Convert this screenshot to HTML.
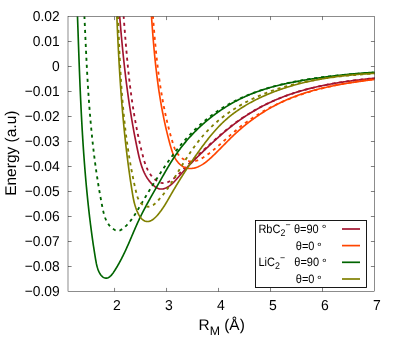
<!DOCTYPE html>
<html><head><meta charset="utf-8"><title>plot</title>
<style>
html,body{margin:0;padding:0;background:#fff;}
svg{display:block;will-change:transform;}
text{font-family:"Liberation Sans",sans-serif;fill:#000;text-rendering:geometricPrecision;}
</style></head><body>
<svg width="400" height="350" viewBox="0 0 400 350">
<defs><clipPath id="pc"><rect x="68.0" y="16.5" width="306.5" height="275.0"/></clipPath></defs>
<path d="M68.0,41.50h3.6 M374.5,41.50h-3.6 M68.0,66.50h3.6 M374.5,66.50h-3.6 M68.0,91.50h3.6 M374.5,91.50h-3.6 M68.0,116.50h3.6 M374.5,116.50h-3.6 M68.0,141.50h3.6 M374.5,141.50h-3.6 M68.0,166.50h3.6 M374.5,166.50h-3.6 M68.0,191.50h3.6 M374.5,191.50h-3.6 M68.0,216.50h3.6 M374.5,216.50h-3.6 M68.0,241.50h3.6 M374.5,241.50h-3.6 M68.0,266.50h3.6 M374.5,266.50h-3.6 M114.55,291.5v-3.6 M114.55,16.5v3.6 M166.54,291.5v-3.6 M166.54,16.5v3.6 M218.53,291.5v-3.6 M218.53,16.5v3.6 M270.52,291.5v-3.6 M270.52,16.5v3.6 M322.51,291.5v-3.6 M322.51,16.5v3.6" stroke="#000" stroke-width="0.5" fill="none"/>
<g clip-path="url(#pc)" fill="none" stroke-linejoin="round">
<path d="M115.47,-40.04 L115.55,-39.03 L115.62,-38.02 L115.69,-37.01 L115.77,-36.00 L115.84,-34.99 L115.91,-33.99 L115.99,-32.98 L116.06,-31.97 L116.13,-30.97 L116.21,-29.96 L116.28,-28.95 L116.35,-27.95 L116.42,-26.94 L116.50,-25.94 L116.57,-24.93 L116.64,-23.93 L116.72,-22.93 L116.79,-21.92 L116.86,-20.92 L116.94,-19.92 L117.01,-18.92 L117.08,-17.91 L117.15,-16.91 L117.23,-15.91 L117.30,-14.91 L117.37,-13.91 L117.45,-12.91 L117.52,-11.91 L117.60,-10.91 L117.67,-9.91 L117.74,-8.91 L117.82,-7.91 L117.89,-6.91 L117.97,-5.91 L118.04,-4.91 L118.12,-3.92 L118.19,-2.92 L118.27,-1.92 L118.34,-0.92 L118.42,0.07 L118.49,1.07 L118.57,2.07 L118.65,3.06 L118.72,4.06 L118.80,5.06 L118.88,6.05 L118.95,7.05 L119.03,8.04 L119.11,9.04 L119.19,10.03 L119.27,11.03 L119.35,12.02 L119.43,13.01 L119.51,14.01 L119.59,15.00 L119.67,15.99 L119.75,16.99 L119.83,17.98 L119.91,18.97 L119.99,19.97 L120.07,20.96 L120.16,21.95 L120.24,22.94 L120.32,23.94 L120.41,24.93 L120.49,25.92 L120.58,26.91 L120.66,27.90 L120.75,28.89 L120.83,29.88 L120.92,30.87 L121.01,31.87 L121.09,32.86 L121.18,33.85 L121.27,34.84 L121.36,35.83 L121.45,36.82 L121.54,37.81 L121.63,38.80 L121.72,39.79 L121.82,40.78 L121.91,41.77 L122.00,42.76 L122.10,43.74 L122.19,44.73 L122.29,45.72 L122.38,46.71 L122.48,47.70 L122.58,48.69 L122.67,49.68 L122.77,50.67 L122.87,51.66 L122.97,52.64 L123.07,53.63 L123.17,54.62 L123.27,55.61 L123.38,56.60 L123.48,57.59 L123.58,58.57 L123.69,59.56 L123.79,60.55 L123.90,61.54 L124.01,62.53 L124.12,63.51 L124.22,64.50 L124.33,65.49 L124.44,66.48 L124.55,67.47 L124.67,68.45 L124.78,69.44 L124.89,70.43 L125.01,71.42 L125.12,72.40 L125.24,73.39 L125.36,74.38 L125.47,75.37 L125.59,76.36 L125.71,77.34 L125.83,78.33 L125.95,79.32 L126.08,80.31 L126.20,81.30 L126.32,82.28 L126.45,83.27 L126.58,84.26 L126.70,85.25 L126.83,86.24 L126.96,87.22 L127.09,88.21 L127.22,89.20 L127.35,90.19 L127.49,91.18 L127.62,92.17 L127.76,93.16 L127.89,94.14 L128.03,95.13 L128.17,96.12 L128.31,97.11 L128.45,98.10 L128.59,99.09 L128.73,100.08 L128.88,101.07 L129.02,102.06 L129.17,103.05 L129.32,104.04 L129.47,105.03 L129.62,106.02 L129.77,107.00 L129.92,108.00 L130.07,108.99 L130.23,109.98 L130.38,110.97 L130.54,111.96 L130.70,112.95 L130.86,113.94 L131.02,114.93 L131.18,115.92 L131.34,116.91 L131.51,117.90 L131.67,118.89 L131.84,119.89 L132.01,120.88 L132.18,121.87 L132.35,122.86 L132.52,123.86 L132.69,124.85 L132.87,125.84 L133.04,126.83 L133.22,127.83 L133.40,128.82 L133.58,129.81 L133.76,130.81 L133.94,131.80 L134.13,132.80 L134.31,133.79 L134.50,134.79 L134.69,135.78 L134.88,136.78 L135.07,137.77 L135.26,138.77 L135.46,139.76 L135.65,140.76 L135.85,141.75 L136.05,142.75 L136.25,143.75 L136.45,144.74 L136.66,145.74 L136.86,146.74 L137.07,147.74 L137.28,148.74 L137.48,149.73 L137.70,150.73 L137.91,151.73 L138.12,152.73 L138.34,153.73 L138.57,154.72 L138.79,155.72 L139.02,156.71 L139.26,157.70 L139.51,158.69 L139.76,159.67 L140.01,160.65 L140.28,161.62 L140.56,162.59 L140.84,163.56 L141.14,164.52 L141.44,165.47 L141.76,166.42 L142.09,167.36 L142.43,168.30 L142.78,169.22 L143.15,170.14 L143.53,171.05 L143.93,171.95 L144.34,172.84 L144.77,173.72 L145.21,174.60 L145.67,175.46 L146.16,176.31 L146.66,177.15 L147.17,177.97 L147.71,178.79 L148.27,179.59 L148.85,180.38 L149.45,181.15 L150.08,181.91 L150.73,182.66 L151.40,183.39 L152.09,184.10 L152.81,184.81 L153.56,185.49 L154.33,186.14 L155.12,186.75 L155.93,187.31 L156.77,187.81 L157.62,188.24 L158.49,188.59 L159.38,188.84 L160.29,188.99 L161.20,189.04 L162.13,188.99 L163.07,188.84 L164.01,188.61 L164.94,188.30 L165.88,187.92 L166.80,187.47 L167.71,186.97 L168.61,186.42 L169.48,185.83 L170.34,185.21 L171.16,184.56 L171.96,183.88 L172.73,183.19 L173.47,182.49 L174.19,181.77 L174.90,181.03 L175.59,180.29 L176.26,179.54 L176.93,178.78 L177.59,178.03 L178.24,177.26 L178.90,176.50 L179.55,175.75 L180.21,174.99 L180.87,174.24 L181.54,173.49 L182.20,172.75 L182.87,172.00 L183.54,171.26 L184.22,170.53 L184.89,169.79 L185.57,169.06 L186.26,168.33 L186.94,167.61 L187.62,166.88 L188.31,166.16 L189.00,165.44 L189.70,164.72 L190.39,164.01 L191.09,163.30 L191.78,162.59 L192.48,161.88 L193.19,161.17 L193.89,160.46 L194.59,159.76 L195.30,159.06 L196.01,158.36 L196.72,157.66 L197.43,156.96 L198.14,156.26 L198.86,155.57 L199.57,154.87 L200.29,154.18 L201.00,153.48 L201.72,152.79 L202.44,152.10 L203.16,151.41 L203.88,150.72 L204.61,150.03 L205.33,149.34 L206.05,148.65 L206.78,147.97 L207.51,147.28 L208.23,146.59 L208.96,145.91 L209.69,145.22 L210.42,144.54 L211.15,143.85 L211.88,143.17 L212.62,142.49 L213.35,141.81 L214.09,141.13 L214.83,140.46 L215.57,139.78 L216.31,139.11 L217.05,138.44 L217.80,137.77 L218.54,137.10 L219.29,136.44 L220.04,135.77 L220.80,135.11 L221.55,134.45 L222.31,133.80 L223.07,133.14 L223.83,132.49 L224.59,131.84 L225.35,131.20 L226.12,130.56 L226.89,129.92 L227.66,129.28 L228.44,128.65 L229.22,128.02 L230.00,127.39 L230.78,126.77 L231.57,126.15 L232.35,125.53 L233.15,124.92 L233.94,124.31 L234.74,123.71 L235.54,123.11 L236.34,122.51 L237.15,121.92 L237.96,121.33 L238.77,120.75 L239.58,120.16 L240.40,119.59 L241.22,119.02 L242.05,118.45 L242.87,117.89 L243.70,117.33 L244.54,116.77 L245.37,116.22 L246.21,115.67 L247.05,115.13 L247.89,114.59 L248.74,114.06 L249.59,113.53 L250.44,113.00 L251.29,112.48 L252.15,111.96 L253.01,111.45 L253.87,110.94 L254.73,110.44 L255.60,109.94 L256.47,109.44 L257.34,108.95 L258.21,108.47 L259.09,107.99 L259.96,107.51 L260.84,107.03 L261.73,106.57 L262.61,106.10 L263.50,105.64 L264.39,105.19 L265.28,104.74 L266.18,104.29 L267.07,103.85 L267.97,103.41 L268.87,102.98 L269.77,102.55 L270.68,102.13 L271.58,101.71 L272.49,101.30 L273.40,100.89 L274.32,100.48 L275.23,100.08 L276.15,99.69 L277.07,99.29 L277.99,98.91 L278.91,98.53 L279.83,98.15 L280.76,97.78 L281.68,97.41 L282.61,97.05 L283.54,96.69 L284.48,96.34 L285.41,95.99 L286.35,95.65 L287.28,95.31 L288.22,94.97 L289.16,94.64 L290.11,94.31 L291.05,93.99 L292.00,93.67 L292.94,93.36 L293.89,93.05 L294.84,92.75 L295.79,92.44 L296.74,92.15 L297.70,91.85 L298.65,91.57 L299.61,91.28 L300.57,91.00 L301.53,90.72 L302.49,90.45 L303.45,90.18 L304.41,89.91 L305.38,89.65 L306.34,89.39 L307.31,89.14 L308.28,88.89 L309.24,88.64 L310.21,88.40 L311.18,88.16 L312.16,87.92 L313.13,87.69 L314.10,87.46 L315.08,87.23 L316.05,87.01 L317.03,86.79 L318.01,86.57 L318.99,86.35 L319.97,86.14 L320.95,85.94 L321.93,85.73 L322.91,85.53 L323.89,85.33 L324.88,85.14 L325.86,84.94 L326.84,84.75 L327.83,84.57 L328.82,84.38 L329.80,84.20 L330.79,84.02 L331.78,83.84 L332.77,83.67 L333.76,83.50 L334.75,83.33 L335.74,83.17 L336.73,83.00 L337.72,82.84 L338.71,82.68 L339.70,82.53 L340.69,82.37 L341.68,82.22 L342.68,82.07 L343.67,81.92 L344.66,81.78 L345.66,81.64 L346.65,81.50 L347.65,81.36 L348.64,81.22 L349.63,81.08 L350.63,80.95 L351.62,80.82 L352.62,80.69 L353.61,80.56 L354.61,80.44 L355.60,80.31 L356.60,80.19 L357.59,80.07 L358.59,79.95 L359.58,79.83 L360.58,79.72 L361.57,79.60 L362.57,79.49 L363.56,79.38 L364.56,79.27 L365.55,79.16 L366.55,79.05 L367.54,78.95 L368.53,78.84 L369.53,78.74 L370.52,78.63 L371.51,78.53 L372.50,78.43 L373.50,78.33 L374.49,78.23 L375.48,78.13 L376.47,78.04 L377.46,77.94 L378.45,77.84 L379.44,77.75 L380.43,77.66 L381.41,77.56 L382.40,77.47 L383.39,77.38 L384.37,77.29 L385.36,77.20 L386.35,77.11 L387.33,77.02 L388.31,76.93 L389.30,76.84" stroke="#a2142f" stroke-width="1.65"/>
<path d="M118.94,-40.04 L119.04,-39.03 L119.14,-38.02 L119.24,-37.02 L119.34,-36.01 L119.43,-35.00 L119.53,-34.00 L119.62,-32.99 L119.72,-31.99 L119.81,-30.98 L119.91,-29.98 L120.00,-28.97 L120.09,-27.97 L120.18,-26.97 L120.27,-25.96 L120.36,-24.96 L120.45,-23.96 L120.54,-22.95 L120.62,-21.95 L120.71,-20.95 L120.80,-19.95 L120.88,-18.94 L120.97,-17.94 L121.05,-16.94 L121.13,-15.94 L121.22,-14.94 L121.30,-13.94 L121.38,-12.94 L121.46,-11.94 L121.54,-10.94 L121.62,-9.94 L121.70,-8.94 L121.78,-7.94 L121.86,-6.94 L121.94,-5.94 L122.02,-4.95 L122.10,-3.95 L122.18,-2.95 L122.25,-1.95 L122.33,-0.96 L122.41,0.04 L122.49,1.04 L122.56,2.04 L122.64,3.03 L122.71,4.03 L122.79,5.02 L122.87,6.02 L122.94,7.02 L123.02,8.01 L123.09,9.01 L123.17,10.00 L123.24,11.00 L123.32,11.99 L123.39,12.99 L123.47,13.98 L123.54,14.98 L123.62,15.97 L123.69,16.96 L123.77,17.96 L123.84,18.95 L123.92,19.94 L124.00,20.94 L124.07,21.93 L124.15,22.92 L124.22,23.92 L124.30,24.91 L124.37,25.90 L124.45,26.89 L124.53,27.89 L124.60,28.88 L124.68,29.87 L124.76,30.86 L124.84,31.85 L124.91,32.84 L124.99,33.84 L125.07,34.83 L125.15,35.82 L125.23,36.81 L125.31,37.80 L125.39,38.79 L125.47,39.78 L125.55,40.77 L125.63,41.76 L125.72,42.75 L125.80,43.74 L125.88,44.73 L125.97,45.72 L126.05,46.71 L126.13,47.70 L126.22,48.69 L126.31,49.68 L126.39,50.67 L126.48,51.66 L126.57,52.65 L126.66,53.64 L126.75,54.63 L126.84,55.62 L126.93,56.61 L127.02,57.60 L127.11,58.59 L127.20,59.58 L127.30,60.56 L127.39,61.55 L127.49,62.54 L127.58,63.53 L127.68,64.52 L127.78,65.51 L127.88,66.50 L127.98,67.48 L128.08,68.47 L128.18,69.46 L128.28,70.45 L128.39,71.44 L128.49,72.43 L128.60,73.41 L128.71,74.40 L128.82,75.39 L128.92,76.38 L129.03,77.37 L129.15,78.36 L129.26,79.34 L129.37,80.33 L129.49,81.32 L129.60,82.31 L129.72,83.30 L129.84,84.28 L129.96,85.27 L130.08,86.26 L130.20,87.25 L130.33,88.24 L130.45,89.23 L130.58,90.21 L130.71,91.20 L130.84,92.19 L130.97,93.18 L131.10,94.17 L131.23,95.15 L131.37,96.14 L131.50,97.13 L131.64,98.12 L131.78,99.11 L131.92,100.10 L132.06,101.09 L132.21,102.07 L132.35,103.06 L132.50,104.05 L132.65,105.04 L132.80,106.03 L132.95,107.02 L133.10,108.01 L133.26,109.00 L133.42,109.98 L133.58,110.97 L133.74,111.96 L133.90,112.95 L134.06,113.94 L134.23,114.93 L134.39,115.92 L134.56,116.91 L134.74,117.90 L134.91,118.89 L135.08,119.88 L135.26,120.87 L135.44,121.86 L135.62,122.85 L135.80,123.84 L135.99,124.83 L136.17,125.82 L136.36,126.81 L136.55,127.80 L136.74,128.79 L136.94,129.78 L137.14,130.77 L137.33,131.76 L137.54,132.76 L137.74,133.75 L137.94,134.74 L138.15,135.73 L138.36,136.72 L138.57,137.71 L138.79,138.71 L139.00,139.70 L139.22,140.69 L139.44,141.68 L139.66,142.67 L139.89,143.67 L140.12,144.66 L140.35,145.65 L140.58,146.65 L140.81,147.64 L141.05,148.63 L141.29,149.63 L141.53,150.62 L141.77,151.62 L142.02,152.61 L142.27,153.60 L142.52,154.60 L142.78,155.59 L143.04,156.59 L143.30,157.58 L143.57,158.56 L143.85,159.55 L144.14,160.52 L144.43,161.50 L144.74,162.46 L145.06,163.42 L145.39,164.37 L145.73,165.31 L146.09,166.24 L146.46,167.16 L146.85,168.07 L147.26,168.97 L147.68,169.85 L148.13,170.72 L148.59,171.57 L149.08,172.41 L149.59,173.23 L150.12,174.03 L150.68,174.81 L151.26,175.57 L151.87,176.32 L152.50,177.04 L153.17,177.74 L153.86,178.41 L154.58,179.07 L155.34,179.69 L156.13,180.29 L156.94,180.86 L157.79,181.38 L158.65,181.86 L159.54,182.27 L160.44,182.61 L161.35,182.87 L162.28,183.04 L163.21,183.11 L164.14,183.08 L165.07,182.96 L166.01,182.75 L166.93,182.47 L167.86,182.11 L168.77,181.69 L169.68,181.21 L170.58,180.69 L171.46,180.12 L172.33,179.53 L173.18,178.91 L174.00,178.27 L174.81,177.62 L175.61,176.96 L176.38,176.29 L177.14,175.61 L177.89,174.92 L178.62,174.22 L179.34,173.52 L180.06,172.81 L180.76,172.10 L181.46,171.38 L182.16,170.66 L182.85,169.94 L183.54,169.22 L184.23,168.51 L184.92,167.79 L185.62,167.08 L186.32,166.36 L187.02,165.66 L187.72,164.95 L188.43,164.25 L189.14,163.55 L189.85,162.86 L190.56,162.16 L191.28,161.47 L192.00,160.78 L192.72,160.09 L193.44,159.41 L194.17,158.72 L194.90,158.04 L195.62,157.36 L196.35,156.68 L197.08,156.00 L197.82,155.32 L198.55,154.65 L199.29,153.97 L200.02,153.30 L200.76,152.62 L201.49,151.95 L202.23,151.28 L202.97,150.60 L203.71,149.93 L204.45,149.26 L205.19,148.58 L205.92,147.91 L206.66,147.24 L207.40,146.56 L208.14,145.89 L208.88,145.21 L209.62,144.54 L210.36,143.87 L211.10,143.20 L211.85,142.52 L212.59,141.85 L213.33,141.18 L214.08,140.51 L214.82,139.85 L215.57,139.18 L216.32,138.51 L217.06,137.85 L217.81,137.19 L218.57,136.53 L219.32,135.87 L220.07,135.21 L220.83,134.55 L221.59,133.90 L222.35,133.25 L223.11,132.60 L223.87,131.96 L224.64,131.31 L225.41,130.67 L226.18,130.04 L226.95,129.40 L227.73,128.77 L228.50,128.14 L229.28,127.51 L230.07,126.89 L230.85,126.27 L231.64,125.66 L232.43,125.05 L233.22,124.44 L234.02,123.84 L234.82,123.24 L235.62,122.64 L236.43,122.05 L237.24,121.47 L238.05,120.88 L238.87,120.31 L239.69,119.73 L240.51,119.16 L241.33,118.60 L242.16,118.04 L242.99,117.48 L243.83,116.93 L244.66,116.38 L245.50,115.83 L246.35,115.29 L247.19,114.76 L248.04,114.23 L248.89,113.70 L249.74,113.18 L250.60,112.66 L251.46,112.15 L252.32,111.64 L253.18,111.13 L254.05,110.63 L254.92,110.14 L255.79,109.64 L256.66,109.16 L257.54,108.67 L258.42,108.19 L259.30,107.72 L260.18,107.25 L261.07,106.78 L261.96,106.32 L262.85,105.87 L263.74,105.41 L264.63,104.97 L265.53,104.52 L266.43,104.08 L267.33,103.65 L268.23,103.22 L269.14,102.79 L270.04,102.37 L270.95,101.96 L271.86,101.54 L272.78,101.14 L273.69,100.73 L274.61,100.33 L275.53,99.94 L276.45,99.55 L277.37,99.16 L278.29,98.78 L279.22,98.41 L280.14,98.04 L281.07,97.67 L282.00,97.31 L282.93,96.95 L283.87,96.60 L284.80,96.25 L285.74,95.90 L286.68,95.56 L287.62,95.22 L288.56,94.89 L289.50,94.56 L290.44,94.24 L291.39,93.92 L292.34,93.61 L293.28,93.30 L294.23,92.99 L295.18,92.69 L296.13,92.39 L297.09,92.09 L298.04,91.80 L299.00,91.51 L299.96,91.23 L300.91,90.95 L301.87,90.67 L302.83,90.40 L303.80,90.13 L304.76,89.87 L305.72,89.61 L306.69,89.35 L307.65,89.09 L308.62,88.84 L309.59,88.60 L310.56,88.35 L311.53,88.11 L312.50,87.87 L313.47,87.64 L314.45,87.41 L315.42,87.18 L316.39,86.96 L317.37,86.74 L318.35,86.52 L319.32,86.31 L320.30,86.09 L321.28,85.89 L322.26,85.68 L323.24,85.48 L324.22,85.28 L325.21,85.08 L326.19,84.89 L327.17,84.70 L328.16,84.51 L329.14,84.32 L330.13,84.14 L331.11,83.96 L332.10,83.79 L333.09,83.61 L334.07,83.44 L335.06,83.27 L336.05,83.10 L337.04,82.94 L338.03,82.78 L339.02,82.62 L340.01,82.46 L341.00,82.30 L341.99,82.15 L342.99,82.00 L343.98,81.85 L344.97,81.71 L345.96,81.56 L346.96,81.42 L347.95,81.28 L348.94,81.14 L349.94,81.01 L350.93,80.88 L351.92,80.74 L352.92,80.61 L353.91,80.49 L354.91,80.36 L355.90,80.24 L356.90,80.11 L357.89,79.99 L358.89,79.87 L359.88,79.76 L360.87,79.64 L361.87,79.53 L362.86,79.42 L363.86,79.30 L364.85,79.19 L365.85,79.09 L366.84,78.98 L367.84,78.87 L368.83,78.77 L369.83,78.67 L370.82,78.57 L371.81,78.47 L372.81,78.37 L373.80,78.27 L374.79,78.17 L375.78,78.08 L376.78,77.98 L377.77,77.89 L378.76,77.80 L379.75,77.71 L380.74,77.61 L381.73,77.52 L382.72,77.44 L383.71,77.35 L384.70,77.26 L385.69,77.17 L386.68,77.09 L387.66,77.00 L388.65,76.92 L389.64,76.83" stroke="#a2142f" stroke-width="1.85" stroke-dasharray="3.1 3.9" stroke-dashoffset="0"/>
<path d="M147.47,-40.02 L147.55,-39.02 L147.63,-38.01 L147.71,-37.01 L147.79,-36.01 L147.87,-35.00 L147.95,-34.00 L148.03,-33.00 L148.11,-32.00 L148.18,-31.00 L148.26,-29.99 L148.33,-28.99 L148.41,-27.99 L148.48,-26.99 L148.56,-25.99 L148.63,-24.99 L148.71,-23.98 L148.78,-22.98 L148.85,-21.98 L148.92,-20.98 L148.99,-19.98 L149.06,-18.98 L149.13,-17.98 L149.20,-16.98 L149.27,-15.98 L149.34,-14.98 L149.41,-13.98 L149.48,-12.98 L149.55,-11.98 L149.62,-10.98 L149.69,-9.98 L149.76,-8.98 L149.82,-7.98 L149.89,-6.99 L149.96,-5.99 L150.03,-4.99 L150.09,-3.99 L150.16,-2.99 L150.23,-1.99 L150.30,-1.00 L150.36,0.00 L150.43,1.00 L150.50,2.00 L150.57,2.99 L150.63,3.99 L150.70,4.99 L150.77,5.99 L150.84,6.98 L150.90,7.98 L150.97,8.98 L151.04,9.97 L151.11,10.97 L151.17,11.97 L151.24,12.96 L151.31,13.96 L151.38,14.95 L151.45,15.95 L151.52,16.95 L151.59,17.94 L151.66,18.94 L151.73,19.93 L151.80,20.93 L151.87,21.92 L151.95,22.92 L152.02,23.91 L152.09,24.91 L152.16,25.90 L152.24,26.90 L152.31,27.89 L152.39,28.88 L152.46,29.88 L152.54,30.87 L152.61,31.87 L152.69,32.86 L152.77,33.85 L152.85,34.85 L152.93,35.84 L153.01,36.83 L153.09,37.83 L153.17,38.82 L153.25,39.81 L153.33,40.80 L153.42,41.80 L153.50,42.79 L153.59,43.78 L153.67,44.77 L153.76,45.77 L153.85,46.76 L153.93,47.75 L154.02,48.74 L154.11,49.73 L154.21,50.72 L154.30,51.72 L154.39,52.71 L154.49,53.70 L154.58,54.69 L154.68,55.68 L154.77,56.67 L154.87,57.66 L154.97,58.65 L155.07,59.64 L155.18,60.63 L155.28,61.62 L155.38,62.61 L155.49,63.60 L155.59,64.59 L155.70,65.58 L155.81,66.57 L155.92,67.56 L156.03,68.55 L156.15,69.54 L156.26,70.53 L156.38,71.52 L156.49,72.51 L156.61,73.50 L156.73,74.49 L156.85,75.48 L156.98,76.46 L157.10,77.45 L157.23,78.44 L157.36,79.43 L157.48,80.42 L157.61,81.41 L157.75,82.39 L157.88,83.38 L158.02,84.37 L158.15,85.36 L158.29,86.34 L158.43,87.33 L158.57,88.32 L158.72,89.31 L158.86,90.29 L159.01,91.28 L159.16,92.27 L159.31,93.25 L159.46,94.24 L159.61,95.23 L159.77,96.21 L159.93,97.20 L160.09,98.19 L160.25,99.17 L160.41,100.16 L160.58,101.14 L160.75,102.13 L160.92,103.12 L161.09,104.10 L161.26,105.09 L161.44,106.07 L161.61,107.06 L161.79,108.04 L161.98,109.03 L162.16,110.01 L162.34,111.00 L162.53,111.98 L162.72,112.97 L162.92,113.95 L163.11,114.94 L163.31,115.92 L163.51,116.91 L163.71,117.89 L163.91,118.87 L164.12,119.86 L164.33,120.84 L164.54,121.83 L164.75,122.81 L164.96,123.79 L165.18,124.78 L165.40,125.76 L165.62,126.74 L165.85,127.73 L166.08,128.71 L166.31,129.69 L166.54,130.68 L166.78,131.66 L167.01,132.64 L167.25,133.63 L167.50,134.61 L167.74,135.59 L167.99,136.57 L168.24,137.56 L168.49,138.54 L168.75,139.52 L169.01,140.50 L169.27,141.49 L169.53,142.47 L169.80,143.45 L170.07,144.43 L170.34,145.41 L170.62,146.39 L170.90,147.37 L171.19,148.35 L171.48,149.32 L171.79,150.29 L172.11,151.25 L172.44,152.21 L172.79,153.15 L173.16,154.08 L173.55,155.01 L173.96,155.92 L174.39,156.81 L174.85,157.69 L175.33,158.56 L175.84,159.40 L176.38,160.23 L176.96,161.04 L177.57,161.83 L178.21,162.59 L178.89,163.33 L179.60,164.04 L180.35,164.71 L181.12,165.34 L181.92,165.93 L182.74,166.47 L183.59,166.95 L184.46,167.38 L185.35,167.74 L186.26,168.04 L187.18,168.27 L188.11,168.42 L189.06,168.52 L190.01,168.55 L190.98,168.52 L191.94,168.44 L192.91,168.30 L193.87,168.12 L194.84,167.88 L195.80,167.60 L196.75,167.28 L197.69,166.92 L198.62,166.53 L199.54,166.10 L200.44,165.64 L201.32,165.15 L202.19,164.64 L203.04,164.11 L203.88,163.55 L204.70,162.97 L205.52,162.37 L206.32,161.75 L207.11,161.12 L207.89,160.47 L208.66,159.81 L209.42,159.14 L210.18,158.46 L210.93,157.77 L211.67,157.08 L212.41,156.38 L213.14,155.68 L213.87,154.98 L214.60,154.28 L215.32,153.57 L216.04,152.86 L216.76,152.15 L217.47,151.44 L218.18,150.73 L218.89,150.02 L219.60,149.30 L220.30,148.59 L221.01,147.88 L221.71,147.16 L222.41,146.45 L223.12,145.73 L223.82,145.02 L224.52,144.31 L225.22,143.59 L225.92,142.88 L226.62,142.17 L227.32,141.46 L228.03,140.75 L228.73,140.05 L229.44,139.35 L230.15,138.64 L230.86,137.94 L231.57,137.25 L232.29,136.55 L233.01,135.86 L233.73,135.18 L234.45,134.49 L235.18,133.81 L235.91,133.13 L236.65,132.46 L237.39,131.79 L238.13,131.13 L238.88,130.46 L239.63,129.81 L240.38,129.15 L241.14,128.50 L241.90,127.85 L242.66,127.21 L243.43,126.57 L244.20,125.94 L244.98,125.31 L245.75,124.68 L246.54,124.06 L247.32,123.44 L248.11,122.82 L248.90,122.21 L249.69,121.61 L250.49,121.00 L251.29,120.41 L252.10,119.81 L252.90,119.22 L253.71,118.64 L254.53,118.05 L255.34,117.48 L256.16,116.91 L256.99,116.34 L257.81,115.77 L258.64,115.21 L259.47,114.66 L260.31,114.11 L261.14,113.56 L261.99,113.02 L262.83,112.49 L263.67,111.95 L264.52,111.43 L265.38,110.90 L266.23,110.39 L267.09,109.87 L267.95,109.36 L268.81,108.86 L269.68,108.36 L270.55,107.87 L271.42,107.38 L272.29,106.89 L273.17,106.41 L274.05,105.94 L274.93,105.47 L275.81,105.00 L276.70,104.54 L277.59,104.09 L278.48,103.64 L279.37,103.19 L280.27,102.75 L281.17,102.32 L282.07,101.89 L282.97,101.46 L283.88,101.04 L284.79,100.63 L285.70,100.22 L286.61,99.82 L287.53,99.42 L288.44,99.03 L289.36,98.64 L290.28,98.26 L291.21,97.88 L292.13,97.51 L293.06,97.15 L293.99,96.78 L294.92,96.43 L295.86,96.08 L296.79,95.73 L297.73,95.39 L298.67,95.06 L299.61,94.73 L300.56,94.40 L301.50,94.08 L302.45,93.76 L303.40,93.45 L304.35,93.14 L305.30,92.84 L306.25,92.54 L307.21,92.25 L308.16,91.96 L309.12,91.68 L310.08,91.40 L311.04,91.12 L312.01,90.85 L312.97,90.58 L313.94,90.31 L314.90,90.05 L315.87,89.80 L316.84,89.54 L317.81,89.29 L318.78,89.05 L319.75,88.81 L320.73,88.57 L321.70,88.34 L322.68,88.10 L323.66,87.88 L324.64,87.65 L325.61,87.43 L326.59,87.21 L327.58,87.00 L328.56,86.79 L329.54,86.58 L330.52,86.38 L331.51,86.17 L332.49,85.98 L333.48,85.78 L334.47,85.59 L335.45,85.39 L336.44,85.21 L337.43,85.02 L338.42,84.84 L339.41,84.66 L340.40,84.48 L341.39,84.31 L342.38,84.13 L343.37,83.96 L344.36,83.79 L345.35,83.63 L346.34,83.46 L347.34,83.30 L348.33,83.14 L349.32,82.98 L350.31,82.82 L351.31,82.67 L352.30,82.52 L353.29,82.37 L354.29,82.22 L355.28,82.07 L356.27,81.92 L357.27,81.78 L358.26,81.63 L359.25,81.49 L360.24,81.35 L361.24,81.21 L362.23,81.07 L363.22,80.94 L364.21,80.80 L365.20,80.67 L366.19,80.53 L367.18,80.40 L368.17,80.27 L369.16,80.13 L370.15,80.00 L371.14,79.87 L372.13,79.74 L373.12,79.62 L374.10,79.49 L375.09,79.36 L376.07,79.23 L377.06,79.10 L378.04,78.98 L379.03,78.85 L380.01,78.72 L380.99,78.60 L381.97,78.47 L382.95,78.34 L383.93,78.22 L384.91,78.09 L385.88,77.96 L386.86,77.84 L387.83,77.71 L388.80,77.58 L389.78,77.45" stroke="#ff4500" stroke-width="1.65"/>
<path d="M148.44,-40.03 L148.54,-39.02 L148.64,-38.01 L148.73,-37.01 L148.82,-36.00 L148.91,-34.99 L149.01,-33.99 L149.10,-32.98 L149.19,-31.97 L149.27,-30.97 L149.36,-29.96 L149.45,-28.96 L149.54,-27.95 L149.62,-26.95 L149.71,-25.94 L149.79,-24.94 L149.87,-23.94 L149.96,-22.93 L150.04,-21.93 L150.12,-20.93 L150.20,-19.92 L150.28,-18.92 L150.36,-17.92 L150.44,-16.92 L150.52,-15.92 L150.60,-14.92 L150.68,-13.92 L150.76,-12.92 L150.83,-11.92 L150.91,-10.92 L150.99,-9.92 L151.06,-8.92 L151.14,-7.92 L151.22,-6.92 L151.29,-5.92 L151.37,-4.93 L151.44,-3.93 L151.52,-2.93 L151.59,-1.93 L151.67,-0.94 L151.74,0.06 L151.82,1.06 L151.89,2.05 L151.96,3.05 L152.04,4.04 L152.11,5.04 L152.19,6.04 L152.26,7.03 L152.34,8.02 L152.41,9.02 L152.48,10.01 L152.56,11.01 L152.63,12.00 L152.71,13.00 L152.78,13.99 L152.86,14.98 L152.94,15.98 L153.01,16.97 L153.09,17.96 L153.16,18.95 L153.24,19.95 L153.32,20.94 L153.40,21.93 L153.47,22.92 L153.55,23.91 L153.63,24.90 L153.71,25.89 L153.79,26.89 L153.87,27.88 L153.95,28.87 L154.03,29.86 L154.11,30.85 L154.20,31.84 L154.28,32.83 L154.36,33.82 L154.45,34.81 L154.53,35.80 L154.62,36.79 L154.70,37.77 L154.79,38.76 L154.88,39.75 L154.97,40.74 L155.06,41.73 L155.15,42.72 L155.24,43.71 L155.33,44.69 L155.43,45.68 L155.52,46.67 L155.61,47.66 L155.71,48.65 L155.81,49.63 L155.91,50.62 L156.00,51.61 L156.10,52.60 L156.21,53.58 L156.31,54.57 L156.41,55.56 L156.52,56.54 L156.62,57.53 L156.73,58.52 L156.84,59.50 L156.95,60.49 L157.06,61.48 L157.17,62.46 L157.28,63.45 L157.40,64.43 L157.51,65.42 L157.63,66.41 L157.75,67.39 L157.87,68.38 L157.99,69.36 L158.11,70.35 L158.24,71.34 L158.36,72.32 L158.49,73.31 L158.62,74.29 L158.75,75.28 L158.88,76.26 L159.02,77.25 L159.15,78.24 L159.29,79.22 L159.43,80.21 L159.57,81.19 L159.71,82.18 L159.86,83.16 L160.00,84.15 L160.15,85.13 L160.30,86.12 L160.45,87.10 L160.61,88.09 L160.76,89.07 L160.92,90.06 L161.08,91.04 L161.24,92.03 L161.40,93.01 L161.57,94.00 L161.73,94.99 L161.90,95.97 L162.07,96.96 L162.25,97.94 L162.42,98.93 L162.60,99.91 L162.78,100.90 L162.96,101.88 L163.15,102.87 L163.33,103.85 L163.52,104.84 L163.71,105.83 L163.90,106.81 L164.10,107.80 L164.30,108.78 L164.50,109.77 L164.70,110.75 L164.90,111.74 L165.11,112.73 L165.32,113.71 L165.53,114.70 L165.75,115.68 L165.97,116.67 L166.19,117.66 L166.41,118.64 L166.63,119.63 L166.86,120.62 L167.09,121.60 L167.32,122.59 L167.56,123.58 L167.80,124.56 L168.04,125.55 L168.28,126.54 L168.53,127.52 L168.78,128.51 L169.03,129.50 L169.29,130.49 L169.54,131.48 L169.80,132.46 L170.07,133.45 L170.33,134.44 L170.60,135.43 L170.88,136.42 L171.15,137.40 L171.43,138.39 L171.71,139.38 L171.99,140.37 L172.28,141.36 L172.58,142.34 L172.88,143.33 L173.19,144.30 L173.52,145.27 L173.85,146.23 L174.21,147.17 L174.58,148.11 L174.98,149.03 L175.40,149.93 L175.84,150.81 L176.31,151.67 L176.81,152.51 L177.34,153.32 L177.90,154.10 L178.50,154.86 L179.13,155.59 L179.81,156.29 L180.52,156.95 L181.27,157.57 L182.05,158.16 L182.85,158.70 L183.69,159.21 L184.54,159.66 L185.42,160.07 L186.32,160.43 L187.23,160.74 L188.16,161.00 L189.09,161.20 L190.04,161.34 L190.99,161.42 L191.94,161.44 L192.89,161.39 L193.85,161.28 L194.80,161.12 L195.75,160.89 L196.69,160.62 L197.63,160.30 L198.57,159.93 L199.50,159.52 L200.42,159.08 L201.34,158.60 L202.25,158.09 L203.15,157.56 L204.05,157.00 L204.93,156.43 L205.80,155.84 L206.66,155.23 L207.51,154.62 L208.35,154.01 L209.17,153.39 L209.98,152.77 L210.78,152.15 L211.57,151.53 L212.36,150.90 L213.13,150.27 L213.89,149.64 L214.65,149.00 L215.41,148.37 L216.16,147.73 L216.90,147.09 L217.65,146.44 L218.39,145.79 L219.13,145.14 L219.88,144.49 L220.62,143.83 L221.36,143.17 L222.11,142.51 L222.85,141.84 L223.60,141.18 L224.34,140.51 L225.09,139.84 L225.84,139.17 L226.59,138.50 L227.34,137.83 L228.09,137.16 L228.84,136.49 L229.60,135.83 L230.36,135.16 L231.11,134.49 L231.88,133.83 L232.64,133.17 L233.40,132.51 L234.17,131.85 L234.94,131.19 L235.71,130.54 L236.48,129.90 L237.26,129.25 L238.04,128.61 L238.82,127.98 L239.60,127.34 L240.39,126.72 L241.18,126.10 L241.98,125.48 L242.77,124.87 L243.57,124.26 L244.38,123.66 L245.18,123.06 L245.99,122.47 L246.80,121.89 L247.62,121.31 L248.43,120.73 L249.25,120.16 L250.08,119.59 L250.90,119.03 L251.73,118.47 L252.56,117.92 L253.40,117.37 L254.23,116.83 L255.07,116.29 L255.92,115.76 L256.76,115.23 L257.61,114.70 L258.46,114.18 L259.31,113.67 L260.17,113.16 L261.02,112.65 L261.88,112.15 L262.75,111.65 L263.61,111.16 L264.48,110.67 L265.35,110.19 L266.22,109.71 L267.10,109.24 L267.97,108.77 L268.85,108.30 L269.73,107.84 L270.62,107.38 L271.50,106.93 L272.39,106.48 L273.28,106.04 L274.17,105.60 L275.07,105.16 L275.97,104.73 L276.86,104.31 L277.76,103.88 L278.67,103.46 L279.57,103.05 L280.48,102.64 L281.39,102.23 L282.30,101.83 L283.21,101.43 L284.13,101.04 L285.04,100.65 L285.96,100.26 L286.88,99.88 L287.81,99.50 L288.73,99.13 L289.66,98.76 L290.58,98.39 L291.51,98.03 L292.44,97.67 L293.38,97.32 L294.31,96.96 L295.25,96.62 L296.18,96.27 L297.12,95.93 L298.06,95.60 L299.00,95.27 L299.95,94.94 L300.89,94.61 L301.84,94.29 L302.79,93.97 L303.74,93.66 L304.69,93.35 L305.64,93.04 L306.59,92.74 L307.55,92.44 L308.51,92.14 L309.46,91.85 L310.42,91.56 L311.38,91.28 L312.34,90.99 L313.31,90.71 L314.27,90.44 L315.23,90.17 L316.20,89.90 L317.17,89.63 L318.13,89.37 L319.10,89.11 L320.07,88.86 L321.04,88.60 L322.02,88.35 L322.99,88.11 L323.96,87.86 L324.94,87.62 L325.91,87.39 L326.89,87.15 L327.87,86.92 L328.84,86.70 L329.82,86.47 L330.80,86.25 L331.78,86.03 L332.76,85.82 L333.75,85.60 L334.73,85.40 L335.71,85.19 L336.70,84.99 L337.68,84.78 L338.67,84.59 L339.65,84.39 L340.64,84.20 L341.62,84.01 L342.61,83.82 L343.60,83.64 L344.59,83.46 L345.57,83.28 L346.56,83.10 L347.55,82.93 L348.54,82.76 L349.53,82.59 L350.52,82.43 L351.51,82.27 L352.50,82.11 L353.49,81.95 L354.48,81.79 L355.48,81.64 L356.47,81.49 L357.46,81.34 L358.45,81.20 L359.44,81.06 L360.43,80.92 L361.43,80.78 L362.42,80.64 L363.41,80.51 L364.40,80.38 L365.39,80.25 L366.38,80.13 L367.38,80.00 L368.37,79.88 L369.36,79.76 L370.35,79.65 L371.34,79.53 L372.33,79.42 L373.32,79.31 L374.31,79.20 L375.30,79.09 L376.29,78.99 L377.28,78.89 L378.27,78.79 L379.26,78.69 L380.25,78.59 L381.23,78.50 L382.22,78.41 L383.21,78.32 L384.19,78.23 L385.18,78.14 L386.17,78.06 L387.15,77.97 L388.13,77.89 L389.12,77.81" stroke="#ff4500" stroke-width="1.85" stroke-dasharray="3.1 3.9" stroke-dashoffset="0"/>
<path d="M75.22,-39.99 L75.27,-38.99 L75.31,-38.00 L75.36,-37.00 L75.41,-36.00 L75.45,-35.00 L75.50,-34.00 L75.54,-33.00 L75.59,-32.01 L75.63,-31.01 L75.68,-30.01 L75.72,-29.01 L75.77,-28.01 L75.81,-27.01 L75.85,-26.02 L75.90,-25.02 L75.94,-24.02 L75.98,-23.02 L76.02,-22.02 L76.07,-21.02 L76.11,-20.03 L76.15,-19.03 L76.19,-18.03 L76.23,-17.03 L76.27,-16.03 L76.31,-15.03 L76.35,-14.03 L76.39,-13.03 L76.43,-12.04 L76.47,-11.04 L76.51,-10.04 L76.55,-9.04 L76.59,-8.04 L76.63,-7.04 L76.67,-6.04 L76.71,-5.04 L76.75,-4.04 L76.78,-3.04 L76.82,-2.05 L76.86,-1.05 L76.90,-0.05 L76.93,0.95 L76.97,1.95 L77.01,2.95 L77.05,3.95 L77.08,4.95 L77.12,5.95 L77.16,6.95 L77.19,7.95 L77.23,8.95 L77.27,9.95 L77.30,10.95 L77.34,11.94 L77.37,12.94 L77.41,13.94 L77.45,14.94 L77.48,15.94 L77.52,16.94 L77.55,17.94 L77.59,18.94 L77.62,19.94 L77.66,20.94 L77.69,21.94 L77.73,22.94 L77.76,23.94 L77.80,24.94 L77.83,25.94 L77.87,26.94 L77.90,27.94 L77.94,28.94 L77.97,29.94 L78.01,30.94 L78.04,31.94 L78.08,32.93 L78.11,33.93 L78.15,34.93 L78.18,35.93 L78.22,36.93 L78.25,37.93 L78.29,38.93 L78.32,39.93 L78.36,40.93 L78.39,41.93 L78.43,42.93 L78.46,43.93 L78.50,44.93 L78.53,45.93 L78.57,46.93 L78.61,47.93 L78.64,48.93 L78.68,49.93 L78.71,50.93 L78.75,51.93 L78.78,52.93 L78.82,53.93 L78.86,54.93 L78.89,55.93 L78.93,56.93 L78.96,57.93 L79.00,58.93 L79.04,59.93 L79.07,60.93 L79.11,61.93 L79.15,62.93 L79.19,63.93 L79.22,64.92 L79.26,65.92 L79.30,66.92 L79.34,67.92 L79.37,68.92 L79.41,69.92 L79.45,70.92 L79.49,71.92 L79.53,72.92 L79.57,73.92 L79.61,74.92 L79.65,75.92 L79.69,76.92 L79.73,77.92 L79.77,78.92 L79.81,79.92 L79.85,80.92 L79.89,81.92 L79.93,82.92 L79.97,83.92 L80.01,84.92 L80.05,85.92 L80.09,86.91 L80.14,87.91 L80.18,88.91 L80.22,89.91 L80.26,90.91 L80.31,91.91 L80.35,92.91 L80.39,93.91 L80.44,94.91 L80.48,95.91 L80.53,96.91 L80.57,97.91 L80.62,98.91 L80.66,99.91 L80.71,100.90 L80.76,101.90 L80.80,102.90 L80.85,103.90 L80.90,104.90 L80.95,105.90 L80.99,106.90 L81.04,107.90 L81.09,108.90 L81.14,109.90 L81.19,110.89 L81.24,111.89 L81.29,112.89 L81.34,113.89 L81.39,114.89 L81.44,115.89 L81.50,116.89 L81.55,117.89 L81.60,118.88 L81.65,119.88 L81.71,120.88 L81.76,121.88 L81.82,122.88 L81.87,123.88 L81.93,124.88 L81.98,125.87 L82.04,126.87 L82.09,127.87 L82.15,128.87 L82.21,129.87 L82.27,130.87 L82.33,131.86 L82.39,132.86 L82.44,133.86 L82.50,134.86 L82.57,135.86 L82.63,136.85 L82.69,137.85 L82.75,138.85 L82.81,139.85 L82.88,140.85 L82.94,141.84 L83.00,142.84 L83.07,143.84 L83.13,144.84 L83.20,145.83 L83.27,146.83 L83.33,147.83 L83.40,148.83 L83.47,149.82 L83.54,150.82 L83.60,151.82 L83.67,152.82 L83.74,153.81 L83.82,154.81 L83.89,155.81 L83.96,156.81 L84.03,157.80 L84.11,158.80 L84.18,159.80 L84.25,160.79 L84.33,161.79 L84.40,162.79 L84.48,163.78 L84.56,164.78 L84.64,165.78 L84.71,166.77 L84.79,167.77 L84.87,168.77 L84.95,169.76 L85.03,170.76 L85.11,171.76 L85.20,172.75 L85.28,173.75 L85.36,174.75 L85.45,175.74 L85.53,176.74 L85.62,177.73 L85.70,178.73 L85.79,179.73 L85.88,180.72 L85.97,181.72 L86.06,182.71 L86.15,183.71 L86.24,184.71 L86.33,185.70 L86.42,186.70 L86.52,187.69 L86.61,188.69 L86.70,189.68 L86.80,190.68 L86.89,191.67 L86.99,192.67 L87.09,193.66 L87.19,194.66 L87.29,195.65 L87.39,196.65 L87.49,197.64 L87.59,198.64 L87.69,199.63 L87.79,200.63 L87.90,201.62 L88.00,202.62 L88.11,203.61 L88.21,204.61 L88.32,205.60 L88.43,206.59 L88.54,207.59 L88.65,208.58 L88.76,209.58 L88.87,210.57 L88.98,211.56 L89.10,212.56 L89.21,213.55 L89.33,214.54 L89.44,215.54 L89.56,216.53 L89.68,217.53 L89.79,218.52 L89.91,219.51 L90.03,220.51 L90.16,221.50 L90.28,222.49 L90.40,223.48 L90.52,224.48 L90.65,225.47 L90.78,226.46 L90.90,227.45 L91.03,228.45 L91.16,229.44 L91.29,230.43 L91.42,231.42 L91.55,232.41 L91.69,233.40 L91.82,234.39 L91.96,235.38 L92.09,236.37 L92.23,237.36 L92.37,238.35 L92.51,239.34 L92.65,240.33 L92.79,241.32 L92.93,242.31 L93.08,243.30 L93.22,244.28 L93.37,245.27 L93.52,246.25 L93.67,247.24 L93.82,248.23 L93.97,249.21 L94.12,250.19 L94.28,251.18 L94.43,252.16 L94.59,253.14 L94.75,254.12 L94.90,255.11 L95.07,256.09 L95.23,257.07 L95.39,258.05 L95.55,259.02 L95.72,260.00 L95.89,260.98 L96.06,261.96 L96.25,262.94 L96.44,263.91 L96.66,264.90 L96.90,265.88 L97.16,266.87 L97.46,267.86 L97.79,268.85 L98.16,269.85 L98.57,270.86 L99.02,271.86 L99.52,272.84 L100.06,273.78 L100.65,274.67 L101.27,275.49 L101.94,276.22 L102.65,276.86 L103.39,277.38 L104.18,277.77 L105.00,278.02 L105.82,278.13 L106.62,278.11 L107.40,277.95 L108.16,277.68 L108.89,277.29 L109.60,276.81 L110.29,276.23 L110.96,275.58 L111.62,274.86 L112.25,274.08 L112.88,273.26 L113.49,272.40 L114.08,271.51 L114.67,270.61 L115.24,269.70 L115.80,268.79 L116.36,267.88 L116.91,266.97 L117.44,266.06 L117.97,265.15 L118.49,264.24 L119.00,263.33 L119.51,262.42 L120.01,261.51 L120.49,260.59 L120.98,259.68 L121.45,258.77 L121.92,257.86 L122.38,256.95 L122.84,256.04 L123.29,255.13 L123.74,254.22 L124.18,253.31 L124.61,252.40 L125.04,251.49 L125.47,250.58 L125.89,249.67 L126.31,248.76 L126.72,247.85 L127.13,246.94 L127.53,246.03 L127.94,245.12 L128.34,244.21 L128.74,243.30 L129.13,242.39 L129.52,241.49 L129.92,240.58 L130.31,239.67 L130.69,238.76 L131.08,237.86 L131.47,236.95 L131.85,236.05 L132.24,235.14 L132.62,234.24 L133.01,233.33 L133.40,232.43 L133.78,231.53 L134.17,230.63 L134.56,229.72 L134.95,228.82 L135.34,227.92 L135.74,227.02 L136.13,226.12 L136.53,225.22 L136.93,224.33 L137.34,223.43 L137.74,222.53 L138.15,221.64 L138.57,220.74 L138.99,219.85 L139.41,218.96 L139.84,218.06 L140.27,217.17 L140.70,216.28 L141.14,215.39 L141.58,214.50 L142.03,213.61 L142.48,212.72 L142.93,211.84 L143.39,210.95 L143.85,210.06 L144.31,209.18 L144.78,208.29 L145.24,207.41 L145.72,206.53 L146.19,205.64 L146.67,204.76 L147.14,203.88 L147.62,203.00 L148.11,202.12 L148.59,201.24 L149.08,200.36 L149.57,199.48 L150.06,198.60 L150.55,197.72 L151.04,196.84 L151.54,195.96 L152.03,195.09 L152.53,194.21 L153.03,193.33 L153.53,192.46 L154.02,191.58 L154.52,190.70 L155.02,189.83 L155.52,188.95 L156.02,188.08 L156.52,187.20 L157.02,186.33 L157.52,185.45 L158.02,184.58 L158.52,183.70 L159.02,182.83 L159.52,181.96 L160.02,181.08 L160.51,180.21 L161.01,179.33 L161.51,178.46 L162.00,177.59 L162.50,176.71 L162.99,175.84 L163.49,174.97 L163.98,174.10 L164.48,173.23 L164.98,172.36 L165.48,171.49 L165.98,170.63 L166.48,169.76 L166.98,168.90 L167.49,168.03 L167.99,167.17 L168.50,166.32 L169.01,165.46 L169.53,164.60 L170.05,163.75 L170.57,162.90 L171.09,162.05 L171.62,161.21 L172.15,160.36 L172.69,159.52 L173.23,158.69 L173.77,157.85 L174.32,157.02 L174.87,156.19 L175.43,155.36 L175.99,154.54 L176.56,153.72 L177.13,152.91 L177.71,152.09 L178.29,151.28 L178.88,150.48 L179.47,149.68 L180.07,148.88 L180.67,148.08 L181.28,147.29 L181.89,146.50 L182.51,145.72 L183.13,144.93 L183.76,144.16 L184.39,143.38 L185.02,142.61 L185.66,141.85 L186.31,141.08 L186.96,140.32 L187.61,139.57 L188.27,138.82 L188.93,138.07 L189.60,137.32 L190.27,136.58 L190.95,135.85 L191.63,135.12 L192.31,134.39 L193.00,133.66 L193.70,132.94 L194.40,132.23 L195.10,131.51 L195.80,130.80 L196.51,130.10 L197.23,129.40 L197.95,128.70 L198.67,128.01 L199.40,127.32 L200.13,126.64 L200.86,125.96 L201.60,125.29 L202.34,124.62 L203.09,123.95 L203.84,123.29 L204.60,122.63 L205.36,121.98 L206.12,121.33 L206.88,120.69 L207.65,120.05 L208.43,119.41 L209.20,118.78 L209.98,118.15 L210.77,117.53 L211.56,116.92 L212.35,116.30 L213.14,115.70 L213.94,115.09 L214.74,114.50 L215.55,113.90 L216.36,113.31 L217.17,112.73 L217.99,112.15 L218.81,111.58 L219.63,111.01 L220.46,110.44 L221.28,109.88 L222.12,109.33 L222.95,108.78 L223.79,108.24 L224.63,107.70 L225.48,107.16 L226.33,106.63 L227.18,106.11 L228.03,105.59 L228.89,105.08 L229.75,104.57 L230.61,104.06 L231.48,103.57 L232.35,103.07 L233.22,102.58 L234.09,102.10 L234.97,101.63 L235.85,101.15 L236.74,100.69 L237.62,100.23 L238.51,99.77 L239.40,99.32 L240.30,98.88 L241.19,98.44 L242.09,98.00 L242.99,97.58 L243.90,97.16 L244.80,96.74 L245.71,96.33 L246.62,95.92 L247.54,95.52 L248.45,95.13 L249.37,94.74 L250.29,94.36 L251.22,93.98 L252.14,93.61 L253.07,93.25 L254.00,92.89 L254.93,92.53 L255.87,92.19 L256.80,91.84 L257.74,91.51 L258.68,91.17 L259.62,90.85 L260.57,90.52 L261.52,90.21 L262.46,89.89 L263.41,89.59 L264.36,89.28 L265.32,88.99 L266.27,88.69 L267.23,88.40 L268.19,88.12 L269.15,87.84 L270.11,87.56 L271.07,87.29 L272.03,87.03 L273.00,86.76 L273.97,86.51 L274.94,86.25 L275.90,86.00 L276.88,85.75 L277.85,85.51 L278.82,85.27 L279.79,85.04 L280.77,84.81 L281.75,84.58 L282.72,84.35 L283.70,84.13 L284.68,83.91 L285.66,83.70 L286.64,83.49 L287.62,83.28 L288.61,83.07 L289.59,82.87 L290.57,82.67 L291.56,82.48 L292.54,82.28 L293.53,82.09 L294.52,81.90 L295.50,81.72 L296.49,81.53 L297.48,81.35 L298.47,81.17 L299.45,81.00 L300.44,80.82 L301.43,80.65 L302.42,80.48 L303.41,80.31 L304.40,80.15 L305.39,79.98 L306.38,79.82 L307.37,79.66 L308.36,79.50 L309.35,79.34 L310.34,79.19 L311.33,79.03 L312.32,78.88 L313.31,78.73 L314.29,78.58 L315.28,78.43 L316.27,78.28 L317.26,78.14 L318.25,77.99 L319.24,77.85 L320.23,77.71 L321.22,77.57 L322.21,77.43 L323.19,77.29 L324.18,77.16 L325.17,77.03 L326.16,76.89 L327.15,76.76 L328.14,76.63 L329.13,76.51 L330.12,76.38 L331.11,76.26 L332.09,76.13 L333.08,76.01 L334.07,75.89 L335.06,75.77 L336.05,75.66 L337.04,75.54 L338.03,75.43 L339.02,75.31 L340.01,75.20 L341.00,75.09 L341.99,74.99 L342.98,74.88 L343.97,74.78 L344.96,74.67 L345.96,74.57 L346.95,74.47 L347.94,74.37 L348.93,74.28 L349.92,74.18 L350.92,74.09 L351.91,73.99 L352.90,73.90 L353.89,73.82 L354.89,73.73 L355.88,73.64 L356.88,73.56 L357.87,73.48 L358.87,73.39 L359.86,73.32 L360.86,73.24 L361.85,73.16 L362.85,73.09 L363.84,73.01 L364.84,72.94 L365.84,72.87 L366.84,72.80 L367.83,72.74 L368.83,72.67 L369.83,72.61 L370.83,72.55 L371.83,72.49 L372.83,72.43 L373.83,72.37 L374.83,72.32 L375.84,72.27 L376.84,72.21 L377.84,72.16 L378.84,72.12 L379.85,72.07 L380.85,72.02 L381.86,71.98 L382.86,71.94 L383.87,71.90 L384.88,71.86 L385.88,71.82 L386.89,71.79 L387.90,71.76 L388.91,71.72 L389.92,71.69" stroke="#006400" stroke-width="1.65"/>
<path d="M81.43,-40.05 L81.49,-39.04 L81.56,-38.04 L81.62,-37.03 L81.68,-36.02 L81.74,-35.02 L81.81,-34.01 L81.87,-33.01 L81.93,-32.01 L81.99,-31.00 L82.05,-30.00 L82.11,-28.99 L82.17,-27.99 L82.23,-26.98 L82.29,-25.98 L82.34,-24.98 L82.40,-23.97 L82.46,-22.97 L82.51,-21.97 L82.57,-20.96 L82.62,-19.96 L82.68,-18.96 L82.73,-17.96 L82.79,-16.95 L82.84,-15.95 L82.89,-14.95 L82.95,-13.95 L83.00,-12.94 L83.05,-11.94 L83.10,-10.94 L83.16,-9.94 L83.21,-8.94 L83.26,-7.94 L83.31,-6.94 L83.36,-5.93 L83.41,-4.93 L83.46,-3.93 L83.51,-2.93 L83.56,-1.93 L83.61,-0.93 L83.65,0.07 L83.70,1.07 L83.75,2.07 L83.80,3.07 L83.85,4.07 L83.89,5.07 L83.94,6.07 L83.99,7.07 L84.04,8.07 L84.08,9.07 L84.13,10.07 L84.18,11.06 L84.22,12.06 L84.27,13.06 L84.31,14.06 L84.36,15.06 L84.41,16.06 L84.45,17.06 L84.50,18.05 L84.54,19.05 L84.59,20.05 L84.64,21.05 L84.68,22.05 L84.73,23.04 L84.77,24.04 L84.82,25.04 L84.86,26.04 L84.91,27.03 L84.95,28.03 L85.00,29.03 L85.04,30.03 L85.09,31.02 L85.14,32.02 L85.18,33.02 L85.23,34.01 L85.27,35.01 L85.32,36.01 L85.37,37.00 L85.41,38.00 L85.46,39.00 L85.50,39.99 L85.55,40.99 L85.60,41.98 L85.64,42.98 L85.69,43.98 L85.74,44.97 L85.78,45.97 L85.83,46.96 L85.88,47.96 L85.93,48.96 L85.98,49.95 L86.02,50.95 L86.07,51.94 L86.12,52.94 L86.17,53.93 L86.22,54.93 L86.27,55.92 L86.32,56.92 L86.37,57.91 L86.42,58.91 L86.47,59.90 L86.52,60.90 L86.57,61.89 L86.62,62.89 L86.68,63.88 L86.73,64.88 L86.78,65.87 L86.83,66.87 L86.89,67.86 L86.94,68.86 L87.00,69.85 L87.05,70.85 L87.11,71.84 L87.16,72.83 L87.22,73.83 L87.27,74.82 L87.33,75.82 L87.39,76.81 L87.44,77.81 L87.50,78.80 L87.56,79.79 L87.62,80.79 L87.68,81.78 L87.74,82.78 L87.80,83.77 L87.86,84.76 L87.92,85.76 L87.99,86.75 L88.05,87.75 L88.11,88.74 L88.18,89.73 L88.24,90.73 L88.31,91.72 L88.37,92.72 L88.44,93.71 L88.51,94.70 L88.57,95.70 L88.64,96.69 L88.71,97.69 L88.78,98.68 L88.85,99.67 L88.92,100.67 L88.99,101.66 L89.07,102.65 L89.14,103.65 L89.21,104.64 L89.29,105.64 L89.36,106.63 L89.44,107.62 L89.52,108.62 L89.59,109.61 L89.67,110.60 L89.75,111.60 L89.83,112.59 L89.91,113.59 L89.99,114.58 L90.08,115.57 L90.16,116.57 L90.24,117.56 L90.33,118.55 L90.41,119.55 L90.50,120.54 L90.59,121.54 L90.68,122.53 L90.77,123.52 L90.86,124.52 L90.95,125.51 L91.04,126.51 L91.13,127.50 L91.23,128.49 L91.32,129.49 L91.42,130.48 L91.51,131.48 L91.61,132.47 L91.71,133.46 L91.81,134.46 L91.91,135.45 L92.01,136.45 L92.11,137.44 L92.22,138.44 L92.32,139.43 L92.43,140.42 L92.53,141.42 L92.64,142.41 L92.75,143.41 L92.86,144.40 L92.97,145.40 L93.09,146.39 L93.20,147.39 L93.31,148.38 L93.43,149.38 L93.55,150.37 L93.66,151.37 L93.78,152.36 L93.90,153.36 L94.02,154.35 L94.15,155.35 L94.27,156.34 L94.40,157.34 L94.52,158.33 L94.65,159.33 L94.78,160.32 L94.91,161.32 L95.04,162.31 L95.17,163.31 L95.31,164.30 L95.44,165.30 L95.58,166.30 L95.71,167.29 L95.85,168.29 L95.99,169.28 L96.13,170.28 L96.28,171.28 L96.42,172.27 L96.57,173.27 L96.71,174.26 L96.86,175.26 L97.01,176.26 L97.16,177.25 L97.32,178.25 L97.47,179.25 L97.62,180.24 L97.78,181.24 L97.94,182.24 L98.10,183.24 L98.26,184.23 L98.42,185.23 L98.59,186.23 L98.75,187.23 L98.92,188.22 L99.09,189.22 L99.26,190.22 L99.43,191.22 L99.60,192.21 L99.77,193.21 L99.95,194.21 L100.13,195.21 L100.31,196.21 L100.49,197.21 L100.67,198.20 L100.85,199.20 L101.04,200.20 L101.23,201.20 L101.42,202.20 L101.61,203.20 L101.80,204.20 L101.99,205.20 L102.19,206.20 L102.38,207.19 L102.59,208.19 L102.79,209.19 L103.01,210.18 L103.23,211.16 L103.46,212.14 L103.71,213.12 L103.97,214.08 L104.24,215.04 L104.54,215.98 L104.85,216.91 L105.18,217.83 L105.53,218.74 L105.91,219.63 L106.31,220.51 L106.74,221.36 L107.20,222.20 L107.69,223.02 L108.21,223.82 L108.76,224.59 L109.35,225.34 L109.97,226.07 L110.64,226.77 L111.34,227.45 L112.09,228.10 L112.87,228.71 L113.71,229.30 L114.57,229.83 L115.47,230.26 L116.38,230.59 L117.29,230.77 L118.21,230.77 L119.11,230.62 L120.01,230.33 L120.89,229.92 L121.76,229.41 L122.61,228.83 L123.45,228.18 L124.26,227.49 L125.05,226.79 L125.81,226.07 L126.56,225.34 L127.28,224.60 L127.98,223.85 L128.66,223.08 L129.32,222.31 L129.97,221.52 L130.60,220.73 L131.21,219.93 L131.81,219.12 L132.40,218.30 L132.97,217.48 L133.53,216.65 L134.09,215.82 L134.63,214.97 L135.17,214.13 L135.70,213.28 L136.22,212.43 L136.74,211.57 L137.25,210.71 L137.76,209.85 L138.27,208.99 L138.78,208.13 L139.29,207.27 L139.80,206.41 L140.31,205.54 L140.82,204.68 L141.33,203.82 L141.84,202.96 L142.35,202.10 L142.87,201.24 L143.38,200.38 L143.90,199.52 L144.41,198.66 L144.93,197.80 L145.45,196.94 L145.97,196.08 L146.49,195.22 L147.01,194.37 L147.53,193.51 L148.05,192.65 L148.58,191.80 L149.10,190.94 L149.62,190.09 L150.15,189.23 L150.68,188.38 L151.21,187.53 L151.73,186.68 L152.26,185.83 L152.79,184.97 L153.33,184.12 L153.86,183.28 L154.39,182.43 L154.93,181.58 L155.46,180.73 L156.00,179.89 L156.53,179.04 L157.07,178.20 L157.61,177.36 L158.15,176.52 L158.69,175.68 L159.24,174.84 L159.78,174.00 L160.33,173.16 L160.88,172.32 L161.43,171.49 L161.98,170.66 L162.53,169.83 L163.08,169.00 L163.64,168.17 L164.20,167.34 L164.76,166.51 L165.32,165.69 L165.88,164.87 L166.45,164.05 L167.02,163.23 L167.59,162.41 L168.16,161.59 L168.74,160.78 L169.31,159.97 L169.89,159.16 L170.48,158.35 L171.06,157.54 L171.65,156.74 L172.24,155.94 L172.83,155.14 L173.43,154.34 L174.03,153.55 L174.63,152.75 L175.23,151.96 L175.84,151.17 L176.45,150.39 L177.07,149.61 L177.68,148.82 L178.30,148.05 L178.93,147.27 L179.55,146.50 L180.18,145.73 L180.82,144.96 L181.46,144.19 L182.10,143.43 L182.74,142.67 L183.39,141.91 L184.04,141.16 L184.70,140.41 L185.36,139.66 L186.02,138.91 L186.69,138.17 L187.36,137.43 L188.04,136.70 L188.72,135.96 L189.41,135.24 L190.09,134.51 L190.79,133.79 L191.49,133.07 L192.19,132.35 L192.89,131.64 L193.60,130.93 L194.32,130.22 L195.04,129.52 L195.76,128.83 L196.49,128.13 L197.22,127.44 L197.95,126.76 L198.69,126.07 L199.43,125.40 L200.18,124.72 L200.93,124.05 L201.69,123.39 L202.44,122.73 L203.21,122.07 L203.97,121.42 L204.74,120.77 L205.52,120.13 L206.29,119.49 L207.07,118.86 L207.86,118.23 L208.65,117.61 L209.44,116.99 L210.24,116.38 L211.04,115.77 L211.84,115.17 L212.65,114.57 L213.46,113.98 L214.27,113.39 L215.09,112.81 L215.91,112.23 L216.73,111.66 L217.56,111.10 L218.39,110.54 L219.22,109.98 L220.06,109.44 L220.90,108.90 L221.75,108.36 L222.59,107.83 L223.44,107.31 L224.30,106.79 L225.16,106.28 L226.02,105.77 L226.88,105.27 L227.75,104.77 L228.61,104.29 L229.49,103.80 L230.36,103.32 L231.24,102.85 L232.12,102.39 L233.00,101.92 L233.89,101.47 L234.78,101.02 L235.67,100.57 L236.56,100.13 L237.46,99.70 L238.36,99.27 L239.26,98.85 L240.16,98.43 L241.07,98.01 L241.98,97.60 L242.89,97.20 L243.80,96.80 L244.72,96.41 L245.63,96.02 L246.55,95.63 L247.48,95.25 L248.40,94.88 L249.32,94.51 L250.25,94.14 L251.18,93.78 L252.11,93.43 L253.05,93.08 L253.98,92.73 L254.92,92.39 L255.86,92.05 L256.80,91.71 L257.74,91.38 L258.68,91.06 L259.63,90.74 L260.57,90.42 L261.52,90.11 L262.47,89.80 L263.42,89.49 L264.37,89.19 L265.32,88.90 L266.28,88.60 L267.23,88.32 L268.19,88.03 L269.15,87.75 L270.11,87.47 L271.07,87.20 L272.03,86.93 L272.99,86.66 L273.95,86.40 L274.92,86.14 L275.88,85.89 L276.85,85.63 L277.82,85.39 L278.78,85.14 L279.75,84.90 L280.72,84.66 L281.69,84.43 L282.66,84.20 L283.64,83.97 L284.61,83.74 L285.58,83.52 L286.56,83.30 L287.53,83.09 L288.51,82.87 L289.49,82.67 L290.46,82.46 L291.44,82.26 L292.42,82.06 L293.40,81.86 L294.38,81.67 L295.36,81.47 L296.34,81.29 L297.33,81.10 L298.31,80.92 L299.29,80.74 L300.28,80.56 L301.26,80.39 L302.25,80.21 L303.24,80.04 L304.22,79.88 L305.21,79.71 L306.20,79.55 L307.19,79.39 L308.18,79.24 L309.17,79.08 L310.16,78.93 L311.15,78.78 L312.14,78.63 L313.13,78.49 L314.12,78.35 L315.12,78.20 L316.11,78.07 L317.10,77.93 L318.10,77.80 L319.09,77.66 L320.08,77.53 L321.08,77.41 L322.07,77.28 L323.07,77.16 L324.07,77.03 L325.06,76.91 L326.06,76.79 L327.05,76.68 L328.05,76.56 L329.05,76.45 L330.04,76.34 L331.04,76.23 L332.04,76.12 L333.04,76.01 L334.04,75.91 L335.03,75.81 L336.03,75.70 L337.03,75.60 L338.03,75.51 L339.03,75.41 L340.03,75.31 L341.02,75.22 L342.02,75.12 L343.02,75.03 L344.02,74.94 L345.02,74.85 L346.02,74.76 L347.02,74.67 L348.02,74.59 L349.02,74.50 L350.01,74.42 L351.01,74.33 L352.01,74.25 L353.01,74.17 L354.01,74.09 L355.01,74.01 L356.01,73.93 L357.00,73.85 L358.00,73.78 L359.00,73.70 L360.00,73.62 L360.99,73.55 L361.99,73.47 L362.99,73.40 L363.98,73.33 L364.98,73.25 L365.98,73.18 L366.97,73.11 L367.97,73.04 L368.96,72.96 L369.96,72.89 L370.95,72.82 L371.95,72.75 L372.94,72.68 L373.94,72.61 L374.93,72.54 L375.92,72.47 L376.91,72.41 L377.91,72.34 L378.90,72.27 L379.89,72.20 L380.88,72.13 L381.87,72.06 L382.86,71.99 L383.85,71.92 L384.84,71.85 L385.82,71.78 L386.81,71.71 L387.80,71.64 L388.78,71.57 L389.77,71.50" stroke="#006400" stroke-width="1.85" stroke-dasharray="3.1 3.9" stroke-dashoffset="0"/>
<path d="M114.71,-39.99 L114.75,-39.00 L114.78,-38.00 L114.82,-37.00 L114.86,-36.00 L114.89,-35.01 L114.93,-34.01 L114.97,-33.01 L115.00,-32.01 L115.04,-31.01 L115.08,-30.02 L115.11,-29.02 L115.15,-28.02 L115.19,-27.02 L115.22,-26.02 L115.26,-25.03 L115.30,-24.03 L115.33,-23.03 L115.37,-22.03 L115.41,-21.03 L115.44,-20.03 L115.48,-19.04 L115.52,-18.04 L115.55,-17.04 L115.59,-16.04 L115.63,-15.04 L115.66,-14.04 L115.70,-13.04 L115.74,-12.04 L115.77,-11.05 L115.81,-10.05 L115.85,-9.05 L115.89,-8.05 L115.92,-7.05 L115.96,-6.05 L116.00,-5.05 L116.04,-4.05 L116.07,-3.05 L116.11,-2.05 L116.15,-1.05 L116.19,-0.05 L116.23,0.95 L116.27,1.94 L116.31,2.94 L116.34,3.94 L116.38,4.94 L116.42,5.94 L116.46,6.94 L116.50,7.94 L116.54,8.94 L116.58,9.94 L116.62,10.94 L116.66,11.94 L116.70,12.94 L116.74,13.94 L116.78,14.94 L116.83,15.94 L116.87,16.94 L116.91,17.94 L116.95,18.94 L116.99,19.94 L117.03,20.94 L117.08,21.94 L117.12,22.94 L117.16,23.94 L117.21,24.94 L117.25,25.94 L117.29,26.93 L117.34,27.93 L117.38,28.93 L117.43,29.93 L117.47,30.93 L117.52,31.93 L117.56,32.93 L117.61,33.93 L117.65,34.93 L117.70,35.93 L117.75,36.93 L117.80,37.93 L117.84,38.93 L117.89,39.93 L117.94,40.93 L117.99,41.93 L118.04,42.93 L118.09,43.93 L118.14,44.93 L118.19,45.93 L118.24,46.93 L118.29,47.93 L118.34,48.93 L118.39,49.93 L118.44,50.93 L118.49,51.93 L118.55,52.93 L118.60,53.92 L118.65,54.92 L118.71,55.92 L118.76,56.92 L118.82,57.92 L118.87,58.92 L118.93,59.92 L118.98,60.92 L119.04,61.92 L119.10,62.92 L119.15,63.92 L119.21,64.92 L119.27,65.92 L119.33,66.91 L119.39,67.91 L119.45,68.91 L119.51,69.91 L119.57,70.91 L119.63,71.91 L119.69,72.91 L119.75,73.91 L119.82,74.90 L119.88,75.90 L119.94,76.90 L120.01,77.90 L120.07,78.90 L120.14,79.90 L120.20,80.90 L120.27,81.89 L120.34,82.89 L120.41,83.89 L120.47,84.89 L120.54,85.89 L120.61,86.88 L120.68,87.88 L120.75,88.88 L120.82,89.88 L120.89,90.88 L120.97,91.87 L121.04,92.87 L121.11,93.87 L121.19,94.87 L121.26,95.86 L121.34,96.86 L121.41,97.86 L121.49,98.85 L121.57,99.85 L121.65,100.85 L121.72,101.85 L121.80,102.84 L121.88,103.84 L121.96,104.84 L122.04,105.83 L122.13,106.83 L122.21,107.83 L122.29,108.82 L122.38,109.82 L122.46,110.81 L122.55,111.81 L122.63,112.81 L122.72,113.80 L122.81,114.80 L122.89,115.79 L122.98,116.79 L123.07,117.79 L123.16,118.78 L123.25,119.78 L123.35,120.77 L123.44,121.77 L123.53,122.76 L123.63,123.76 L123.72,124.75 L123.82,125.75 L123.91,126.74 L124.01,127.74 L124.11,128.73 L124.21,129.73 L124.31,130.72 L124.41,131.71 L124.51,132.71 L124.61,133.70 L124.71,134.70 L124.82,135.69 L124.92,136.68 L125.03,137.68 L125.13,138.67 L125.24,139.66 L125.35,140.66 L125.46,141.65 L125.57,142.64 L125.68,143.64 L125.79,144.63 L125.90,145.62 L126.01,146.61 L126.13,147.61 L126.24,148.60 L126.36,149.59 L126.47,150.58 L126.59,151.57 L126.71,152.57 L126.83,153.56 L126.95,154.55 L127.07,155.54 L127.19,156.53 L127.32,157.52 L127.44,158.51 L127.56,159.50 L127.69,160.50 L127.82,161.49 L127.95,162.48 L128.07,163.47 L128.20,164.46 L128.33,165.45 L128.47,166.44 L128.60,167.43 L128.73,168.42 L128.87,169.41 L129.00,170.39 L129.14,171.38 L129.28,172.37 L129.42,173.36 L129.56,174.35 L129.70,175.34 L129.84,176.33 L129.98,177.32 L130.12,178.30 L130.27,179.29 L130.41,180.28 L130.56,181.27 L130.71,182.25 L130.86,183.24 L131.01,184.23 L131.16,185.22 L131.31,186.20 L131.47,187.19 L131.62,188.18 L131.78,189.16 L131.93,190.15 L132.09,191.13 L132.25,192.12 L132.41,193.11 L132.57,194.09 L132.74,195.08 L132.91,196.06 L133.09,197.05 L133.27,198.03 L133.47,199.01 L133.67,200.00 L133.88,200.98 L134.11,201.96 L134.35,202.94 L134.60,203.92 L134.87,204.90 L135.16,205.88 L135.47,206.85 L135.79,207.83 L136.14,208.81 L136.50,209.78 L136.89,210.75 L137.31,211.72 L137.75,212.69 L138.21,213.66 L138.71,214.61 L139.23,215.53 L139.79,216.42 L140.38,217.26 L141.01,218.05 L141.67,218.78 L142.38,219.44 L143.12,220.01 L143.89,220.50 L144.69,220.91 L145.50,221.21 L146.33,221.42 L147.16,221.52 L148.00,221.51 L148.83,221.39 L149.66,221.18 L150.48,220.87 L151.29,220.48 L152.10,220.01 L152.90,219.47 L153.69,218.87 L154.47,218.22 L155.24,217.51 L155.99,216.77 L156.73,215.99 L157.45,215.19 L158.16,214.37 L158.84,213.54 L159.51,212.70 L160.16,211.86 L160.80,211.02 L161.41,210.18 L162.01,209.34 L162.60,208.49 L163.17,207.64 L163.73,206.79 L164.28,205.94 L164.82,205.09 L165.35,204.23 L165.87,203.38 L166.39,202.52 L166.90,201.67 L167.40,200.81 L167.90,199.95 L168.39,199.09 L168.88,198.24 L169.37,197.38 L169.86,196.52 L170.35,195.66 L170.84,194.81 L171.33,193.95 L171.83,193.09 L172.33,192.24 L172.82,191.38 L173.33,190.53 L173.83,189.67 L174.33,188.82 L174.84,187.97 L175.35,187.11 L175.86,186.26 L176.37,185.41 L176.88,184.56 L177.40,183.71 L177.92,182.86 L178.44,182.01 L178.96,181.17 L179.48,180.32 L180.01,179.47 L180.53,178.63 L181.06,177.78 L181.59,176.94 L182.13,176.09 L182.66,175.25 L183.20,174.41 L183.73,173.57 L184.27,172.72 L184.81,171.88 L185.36,171.05 L185.90,170.21 L186.45,169.37 L187.00,168.53 L187.55,167.70 L188.10,166.86 L188.65,166.03 L189.21,165.20 L189.77,164.36 L190.33,163.53 L190.89,162.70 L191.45,161.87 L192.01,161.04 L192.58,160.22 L193.15,159.39 L193.72,158.56 L194.29,157.74 L194.86,156.91 L195.43,156.09 L196.01,155.27 L196.59,154.45 L197.17,153.63 L197.75,152.81 L198.33,151.99 L198.91,151.18 L199.50,150.36 L200.09,149.55 L200.68,148.73 L201.27,147.92 L201.86,147.11 L202.46,146.30 L203.05,145.50 L203.65,144.69 L204.25,143.89 L204.86,143.09 L205.47,142.29 L206.07,141.49 L206.69,140.70 L207.30,139.91 L207.92,139.12 L208.54,138.33 L209.17,137.55 L209.80,136.77 L210.43,136.00 L211.06,135.23 L211.70,134.46 L212.35,133.69 L212.99,132.93 L213.65,132.18 L214.30,131.42 L214.96,130.68 L215.62,129.93 L216.29,129.19 L216.97,128.46 L217.64,127.73 L218.33,127.01 L219.01,126.29 L219.71,125.57 L220.41,124.87 L221.11,124.16 L221.82,123.47 L222.53,122.78 L223.25,122.09 L223.98,121.41 L224.71,120.74 L225.45,120.07 L226.19,119.41 L226.94,118.76 L227.69,118.11 L228.45,117.47 L229.22,116.84 L229.99,116.21 L230.77,115.59 L231.55,114.97 L232.34,114.36 L233.13,113.76 L233.93,113.16 L234.73,112.57 L235.54,111.98 L236.35,111.40 L237.17,110.83 L237.99,110.26 L238.82,109.70 L239.65,109.14 L240.48,108.59 L241.32,108.04 L242.16,107.50 L243.01,106.97 L243.86,106.44 L244.72,105.92 L245.58,105.40 L246.44,104.89 L247.31,104.39 L248.18,103.89 L249.05,103.39 L249.93,102.90 L250.81,102.42 L251.69,101.94 L252.58,101.46 L253.47,100.99 L254.36,100.53 L255.26,100.07 L256.15,99.62 L257.05,99.17 L257.96,98.73 L258.86,98.29 L259.77,97.86 L260.68,97.43 L261.60,97.01 L262.51,96.59 L263.43,96.18 L264.35,95.77 L265.27,95.37 L266.19,94.97 L267.12,94.57 L268.04,94.18 L268.97,93.80 L269.90,93.42 L270.83,93.04 L271.76,92.67 L272.69,92.30 L273.63,91.94 L274.57,91.58 L275.50,91.23 L276.44,90.88 L277.38,90.54 L278.32,90.20 L279.26,89.86 L280.21,89.53 L281.15,89.20 L282.10,88.88 L283.04,88.56 L283.99,88.25 L284.94,87.94 L285.89,87.63 L286.84,87.33 L287.80,87.03 L288.75,86.73 L289.70,86.44 L290.66,86.16 L291.62,85.87 L292.58,85.60 L293.53,85.32 L294.50,85.05 L295.46,84.78 L296.42,84.52 L297.38,84.26 L298.35,84.01 L299.31,83.75 L300.28,83.51 L301.24,83.26 L302.21,83.02 L303.18,82.78 L304.15,82.55 L305.12,82.32 L306.09,82.09 L307.06,81.87 L308.04,81.65 L309.01,81.43 L309.99,81.22 L310.96,81.01 L311.94,80.81 L312.91,80.60 L313.89,80.40 L314.87,80.21 L315.85,80.01 L316.83,79.82 L317.81,79.64 L318.79,79.45 L319.77,79.27 L320.76,79.10 L321.74,78.92 L322.72,78.75 L323.71,78.58 L324.69,78.42 L325.68,78.26 L326.67,78.10 L327.65,77.94 L328.64,77.79 L329.63,77.64 L330.62,77.49 L331.61,77.34 L332.60,77.20 L333.59,77.06 L334.58,76.93 L335.57,76.79 L336.56,76.66 L337.55,76.53 L338.55,76.41 L339.54,76.28 L340.53,76.16 L341.53,76.04 L342.52,75.93 L343.52,75.81 L344.51,75.70 L345.51,75.59 L346.50,75.48 L347.50,75.38 L348.49,75.28 L349.49,75.18 L350.49,75.08 L351.48,74.99 L352.48,74.89 L353.48,74.80 L354.48,74.71 L355.47,74.63 L356.47,74.54 L357.47,74.46 L358.47,74.38 L359.47,74.30 L360.47,74.23 L361.46,74.15 L362.46,74.08 L363.46,74.01 L364.46,73.94 L365.46,73.87 L366.46,73.81 L367.46,73.74 L368.46,73.68 L369.46,73.62 L370.46,73.56 L371.46,73.51 L372.46,73.45 L373.46,73.40 L374.45,73.35 L375.45,73.30 L376.45,73.25 L377.45,73.20 L378.45,73.15 L379.45,73.11 L380.45,73.07 L381.45,73.02 L382.45,72.98 L383.44,72.95 L384.44,72.91 L385.44,72.87 L386.44,72.84 L387.44,72.80 L388.43,72.77 L389.43,72.74" stroke="#808000" stroke-width="1.65"/>
<path d="M115.34,-40.03 L115.40,-39.03 L115.46,-38.02 L115.52,-37.02 L115.58,-36.02 L115.64,-35.02 L115.69,-34.01 L115.75,-33.01 L115.81,-32.01 L115.86,-31.00 L115.92,-30.00 L115.97,-29.00 L116.02,-28.00 L116.07,-26.99 L116.13,-25.99 L116.18,-24.99 L116.23,-23.99 L116.28,-22.98 L116.33,-21.98 L116.38,-20.98 L116.43,-19.98 L116.47,-18.98 L116.52,-17.98 L116.57,-16.97 L116.62,-15.97 L116.66,-14.97 L116.71,-13.97 L116.75,-12.97 L116.80,-11.97 L116.84,-10.97 L116.89,-9.97 L116.93,-8.97 L116.98,-7.96 L117.02,-6.96 L117.06,-5.96 L117.11,-4.96 L117.15,-3.96 L117.19,-2.96 L117.23,-1.96 L117.28,-0.96 L117.32,0.04 L117.36,1.04 L117.40,2.04 L117.44,3.04 L117.48,4.04 L117.52,5.04 L117.56,6.04 L117.60,7.04 L117.64,8.04 L117.68,9.04 L117.72,10.04 L117.76,11.04 L117.80,12.03 L117.84,13.03 L117.88,14.03 L117.92,15.03 L117.96,16.03 L118.00,17.03 L118.04,18.03 L118.08,19.03 L118.12,20.03 L118.16,21.02 L118.19,22.02 L118.23,23.02 L118.27,24.02 L118.31,25.02 L118.35,26.02 L118.39,27.01 L118.43,28.01 L118.47,29.01 L118.51,30.01 L118.55,31.01 L118.59,32.00 L118.63,33.00 L118.67,34.00 L118.72,35.00 L118.76,36.00 L118.80,36.99 L118.84,37.99 L118.88,38.99 L118.92,39.98 L118.97,40.98 L119.01,41.98 L119.05,42.98 L119.10,43.97 L119.14,44.97 L119.18,45.97 L119.23,46.96 L119.27,47.96 L119.32,48.96 L119.36,49.95 L119.41,50.95 L119.45,51.95 L119.50,52.94 L119.55,53.94 L119.60,54.94 L119.64,55.93 L119.69,56.93 L119.74,57.93 L119.79,58.92 L119.84,59.92 L119.89,60.92 L119.94,61.91 L119.99,62.91 L120.05,63.90 L120.10,64.90 L120.15,65.89 L120.21,66.89 L120.26,67.89 L120.32,68.88 L120.37,69.88 L120.43,70.87 L120.49,71.87 L120.54,72.86 L120.60,73.86 L120.66,74.86 L120.72,75.85 L120.78,76.85 L120.84,77.84 L120.91,78.84 L120.97,79.83 L121.03,80.83 L121.10,81.82 L121.16,82.82 L121.23,83.81 L121.30,84.81 L121.36,85.80 L121.43,86.80 L121.50,87.79 L121.57,88.79 L121.64,89.78 L121.72,90.77 L121.79,91.77 L121.86,92.76 L121.94,93.76 L122.01,94.75 L122.09,95.75 L122.17,96.74 L122.25,97.74 L122.33,98.73 L122.41,99.72 L122.49,100.72 L122.57,101.71 L122.66,102.71 L122.74,103.70 L122.83,104.70 L122.92,105.69 L123.00,106.68 L123.09,107.68 L123.18,108.67 L123.28,109.67 L123.37,110.66 L123.46,111.65 L123.56,112.65 L123.66,113.64 L123.75,114.63 L123.85,115.63 L123.95,116.62 L124.05,117.62 L124.16,118.61 L124.26,119.60 L124.37,120.60 L124.47,121.59 L124.58,122.58 L124.69,123.58 L124.80,124.57 L124.91,125.56 L125.02,126.56 L125.14,127.55 L125.25,128.54 L125.37,129.54 L125.49,130.53 L125.61,131.52 L125.73,132.52 L125.86,133.51 L125.98,134.50 L126.11,135.50 L126.23,136.49 L126.36,137.48 L126.49,138.47 L126.62,139.47 L126.76,140.46 L126.89,141.45 L127.03,142.45 L127.17,143.44 L127.31,144.43 L127.45,145.43 L127.59,146.42 L127.74,147.41 L127.88,148.40 L128.03,149.40 L128.18,150.39 L128.33,151.38 L128.48,152.37 L128.64,153.37 L128.79,154.36 L128.95,155.35 L129.11,156.35 L129.27,157.34 L129.44,158.33 L129.60,159.32 L129.77,160.32 L129.94,161.31 L130.11,162.30 L130.28,163.29 L130.45,164.29 L130.63,165.28 L130.81,166.27 L130.99,167.26 L131.17,168.26 L131.35,169.25 L131.54,170.24 L131.73,171.23 L131.91,172.23 L132.11,173.22 L132.30,174.21 L132.49,175.20 L132.69,176.19 L132.89,177.19 L133.09,178.18 L133.29,179.17 L133.50,180.16 L133.71,181.16 L133.92,182.15 L134.13,183.14 L134.34,184.13 L134.56,185.13 L134.77,186.12 L134.99,187.11 L135.22,188.10 L135.44,189.09 L135.67,190.09 L135.89,191.08 L136.13,192.07 L136.37,193.06 L136.62,194.04 L136.88,195.01 L137.17,195.97 L137.48,196.91 L137.82,197.83 L138.19,198.73 L138.60,199.61 L139.05,200.46 L139.55,201.28 L140.09,202.06 L140.68,202.81 L141.34,203.52 L142.05,204.18 L142.82,204.79 L143.63,205.34 L144.48,205.81 L145.35,206.19 L146.25,206.47 L147.16,206.65 L148.08,206.72 L149.00,206.67 L149.91,206.52 L150.80,206.27 L151.67,205.92 L152.52,205.47 L153.34,204.93 L154.14,204.33 L154.92,203.67 L155.68,202.97 L156.42,202.24 L157.15,201.50 L157.87,200.75 L158.57,200.00 L159.26,199.24 L159.94,198.48 L160.61,197.71 L161.26,196.94 L161.91,196.16 L162.55,195.38 L163.17,194.59 L163.79,193.80 L164.40,193.00 L165.00,192.20 L165.59,191.40 L166.18,190.59 L166.75,189.78 L167.32,188.97 L167.89,188.15 L168.44,187.33 L169.00,186.51 L169.54,185.68 L170.08,184.85 L170.62,184.02 L171.15,183.19 L171.68,182.35 L172.21,181.51 L172.73,180.67 L173.25,179.82 L173.77,178.98 L174.29,178.13 L174.80,177.28 L175.31,176.43 L175.83,175.58 L176.34,174.73 L176.86,173.88 L177.37,173.02 L177.88,172.17 L178.40,171.31 L178.92,170.46 L179.44,169.60 L179.96,168.74 L180.48,167.89 L181.00,167.03 L181.53,166.17 L182.06,165.32 L182.58,164.46 L183.11,163.60 L183.65,162.75 L184.18,161.89 L184.72,161.04 L185.26,160.19 L185.80,159.34 L186.34,158.49 L186.89,157.64 L187.44,156.79 L187.99,155.95 L188.55,155.10 L189.11,154.26 L189.67,153.42 L190.23,152.59 L190.80,151.75 L191.37,150.92 L191.94,150.09 L192.52,149.26 L193.10,148.44 L193.69,147.62 L194.28,146.80 L194.87,145.99 L195.46,145.18 L196.06,144.37 L196.67,143.57 L197.28,142.77 L197.89,141.97 L198.51,141.18 L199.13,140.39 L199.76,139.61 L200.39,138.83 L201.02,138.05 L201.66,137.28 L202.31,136.52 L202.96,135.76 L203.62,135.00 L204.28,134.25 L204.94,133.51 L205.61,132.77 L206.29,132.03 L206.97,131.31 L207.66,130.58 L208.35,129.87 L209.05,129.16 L209.76,128.45 L210.46,127.75 L211.18,127.06 L211.90,126.37 L212.62,125.68 L213.35,125.00 L214.08,124.33 L214.82,123.66 L215.56,123.00 L216.31,122.35 L217.06,121.69 L217.82,121.05 L218.58,120.41 L219.35,119.77 L220.12,119.14 L220.89,118.52 L221.67,117.90 L222.45,117.28 L223.24,116.68 L224.03,116.07 L224.83,115.47 L225.63,114.88 L226.43,114.29 L227.24,113.71 L228.05,113.13 L228.87,112.56 L229.69,112.00 L230.51,111.43 L231.34,110.88 L232.17,110.33 L233.00,109.78 L233.84,109.24 L234.68,108.70 L235.53,108.17 L236.38,107.65 L237.23,107.13 L238.08,106.61 L238.94,106.10 L239.80,105.59 L240.67,105.09 L241.53,104.60 L242.40,104.11 L243.28,103.62 L244.16,103.14 L245.03,102.66 L245.92,102.19 L246.80,101.73 L247.69,101.27 L248.58,100.81 L249.47,100.36 L250.37,99.91 L251.27,99.47 L252.17,99.04 L253.07,98.60 L253.98,98.18 L254.88,97.76 L255.80,97.34 L256.71,96.93 L257.62,96.52 L258.54,96.12 L259.46,95.72 L260.38,95.32 L261.30,94.94 L262.22,94.55 L263.15,94.17 L264.08,93.80 L265.01,93.43 L265.94,93.06 L266.87,92.70 L267.81,92.35 L268.74,92.00 L269.68,91.65 L270.62,91.31 L271.56,90.97 L272.51,90.64 L273.45,90.31 L274.39,89.98 L275.34,89.66 L276.29,89.35 L277.24,89.04 L278.19,88.73 L279.14,88.43 L280.09,88.13 L281.05,87.84 L282.00,87.55 L282.96,87.26 L283.92,86.98 L284.88,86.70 L285.84,86.43 L286.80,86.16 L287.76,85.89 L288.73,85.63 L289.69,85.37 L290.66,85.12 L291.62,84.86 L292.59,84.62 L293.56,84.37 L294.53,84.13 L295.50,83.90 L296.48,83.67 L297.45,83.44 L298.42,83.21 L299.40,82.99 L300.37,82.77 L301.35,82.56 L302.33,82.34 L303.31,82.14 L304.29,81.93 L305.27,81.73 L306.25,81.53 L307.23,81.33 L308.21,81.14 L309.20,80.95 L310.18,80.77 L311.17,80.58 L312.15,80.40 L313.14,80.23 L314.12,80.05 L315.11,79.88 L316.10,79.71 L317.09,79.55 L318.08,79.38 L319.07,79.22 L320.06,79.06 L321.05,78.91 L322.04,78.76 L323.03,78.61 L324.03,78.46 L325.02,78.32 L326.01,78.17 L327.01,78.03 L328.00,77.90 L328.99,77.76 L329.99,77.63 L330.99,77.50 L331.98,77.37 L332.98,77.24 L333.97,77.12 L334.97,77.00 L335.97,76.88 L336.96,76.76 L337.96,76.65 L338.96,76.53 L339.96,76.42 L340.95,76.31 L341.95,76.20 L342.95,76.10 L343.95,76.00 L344.95,75.89 L345.94,75.79 L346.94,75.69 L347.94,75.60 L348.94,75.50 L349.94,75.41 L350.94,75.32 L351.93,75.23 L352.93,75.14 L353.93,75.05 L354.93,74.96 L355.93,74.88 L356.92,74.79 L357.92,74.71 L358.92,74.63 L359.92,74.55 L360.91,74.47 L361.91,74.39 L362.91,74.32 L363.90,74.24 L364.90,74.17 L365.90,74.09 L366.89,74.02 L367.89,73.95 L368.88,73.88 L369.88,73.81 L370.87,73.74 L371.87,73.67 L372.86,73.61 L373.85,73.54 L374.84,73.47 L375.84,73.41 L376.83,73.34 L377.82,73.28 L378.81,73.22 L379.80,73.15 L380.79,73.09 L381.78,73.03 L382.76,72.97 L383.75,72.91 L384.74,72.84 L385.73,72.78 L386.71,72.72 L387.70,72.66 L388.68,72.60 L389.66,72.54" stroke="#808000" stroke-width="1.85" stroke-dasharray="3.1 3.9" stroke-dashoffset="0"/>
</g>
<rect x="68.0" y="16.5" width="306.5" height="275.0" fill="none" stroke="#000" stroke-width="0.45"/>
<g font-size="13.8" text-anchor="end">
<text transform="translate(59.7,21.45) scale(1,1.035)">0.02</text>
<text transform="translate(59.7,46.45) scale(1,1.035)">0.01</text>
<text transform="translate(59.7,71.45) scale(1,1.035)">0</text>
<text transform="translate(59.7,96.45) scale(1,1.035)">−0.01</text>
<text transform="translate(59.7,121.45) scale(1,1.035)">−0.02</text>
<text transform="translate(59.7,146.45) scale(1,1.035)">−0.03</text>
<text transform="translate(59.7,171.45) scale(1,1.035)">−0.04</text>
<text transform="translate(59.7,196.45) scale(1,1.035)">−0.05</text>
<text transform="translate(59.7,221.45) scale(1,1.035)">−0.06</text>
<text transform="translate(59.7,246.45) scale(1,1.035)">−0.07</text>
<text transform="translate(59.7,271.45) scale(1,1.035)">−0.08</text>
<text transform="translate(59.7,296.45) scale(1,1.035)">−0.09</text>
</g>
<g font-size="14" text-anchor="middle">
<text transform="translate(116.85,309.85) scale(1,1.03)">2</text>
<text transform="translate(168.84,309.85) scale(1,1.03)">3</text>
<text transform="translate(220.83,309.85) scale(1,1.03)">4</text>
<text transform="translate(272.82,309.85) scale(1,1.03)">5</text>
<text transform="translate(324.81,309.85) scale(1,1.03)">6</text>
<text transform="translate(376.80,309.85) scale(1,1.03)">7</text>
</g>
<text font-size="15.5" text-anchor="middle" transform="translate(15.7,153.2) rotate(-90)">Energy (a.u)</text>
<text font-size="15.4" x="198.6" y="329.5">R<tspan font-size="12.3" dy="5.0">M</tspan><tspan dy="-5.0"> (Å)</tspan></text>
<rect x="255.5" y="220.5" width="111" height="67" fill="#fff" stroke="#000" stroke-width="0.9"/>
<path d="M342,229.0H360" stroke="#a2142f" stroke-width="1.7" fill="none"/>
<path d="M342,245.6H360" stroke="#ff4500" stroke-width="1.7" fill="none"/>
<path d="M342,262.3H360" stroke="#006400" stroke-width="1.7" fill="none"/>
<path d="M342,279.0H360" stroke="#808000" stroke-width="1.7" fill="none"/>
<text transform="translate(258.4,232.5) scale(1,1.1)" font-size="11.0">RbC<tspan font-size="8.80" dy="2.9">2</tspan><tspan font-size="8.80" dy="-7.2" dx="0.2">−</tspan></text>
<text transform="translate(258.4,265.7) scale(1,1.1)" font-size="11.0">LiC<tspan font-size="8.80" dy="2.9">2</tspan><tspan font-size="8.80" dy="-7.2" dx="0.2">−</tspan></text>
<text transform="translate(293.9,232.5) scale(1,1.1)" font-size="11.0">θ=90</text>
<text transform="translate(321.7,233.3) scale(1,1.0)" font-size="11.88">°</text>
<text transform="translate(295.8,249.8) scale(1,1.1)" font-size="11.0">θ=0</text>
<text transform="translate(316.90000000000003,250.60000000000002) scale(1,1.0)" font-size="11.88">°</text>
<text transform="translate(294.3,265.7) scale(1,1.1)" font-size="11.0">θ=90</text>
<text transform="translate(322.1,266.5) scale(1,1.0)" font-size="11.88">°</text>
<text transform="translate(295.8,283.1) scale(1,1.1)" font-size="11.0">θ=0</text>
<text transform="translate(316.90000000000003,283.90000000000003) scale(1,1.0)" font-size="11.88">°</text>
</svg>
</body></html>
